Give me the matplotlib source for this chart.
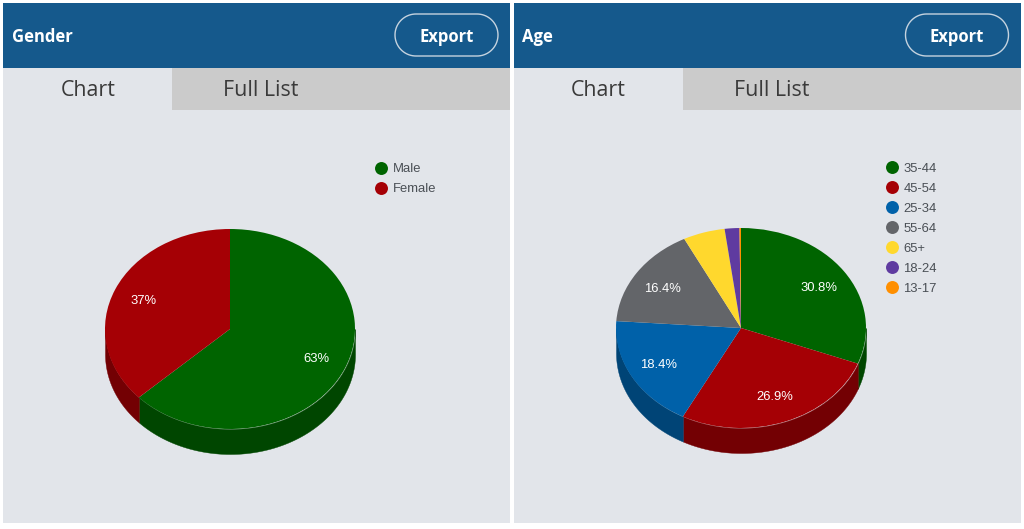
import matplotlib
matplotlib.use('Agg')
import matplotlib.pyplot as plt
from matplotlib.patches import Rectangle
import numpy as np

W, H = 1024, 529

gender_labels = ['Male', 'Female']
gender_values = [63, 37]
gender_colors = ['#006400', '#a50005']
gender_sides = ['#004600', '#730003']

age_labels = ['35-44', '45-54', '25-34', '55-64', '65+', '18-24', '13-17']
age_values = [30.8, 26.9, 18.4, 16.4, 5.4, 1.9, 0.2]
age_colors = ['#006400', '#a50005', '#0061a9', '#636569', '#ffd82d', '#5f3ba0', '#ff8f00']
age_sides = ['#004600', '#730003', '#004476', '#454649', '#b2971f', '#422970', '#b26400']

HEADER = '#15598c'
PANEL = '#e2e5ea'
TAB = '#cbcbcb'
UI_FONT = 'Open Sans'
CHART_FONT = 'Liberation Sans'


def draw_button(bg, x0, x1, y0, y1):
    r = (y1 - y0) / 2
    t = np.linspace(-np.pi / 2, np.pi / 2, 40)
    xs = np.concatenate([x1 - r + r * np.cos(t), x0 + r - r * np.cos(t)[::-1]])
    ys = np.concatenate([y0 + r + r * np.sin(t), y0 + r - r * np.sin(t)])
    bg.fill(xs, ys, fc=HEADER, ec='#c5d3df', lw=1)


def draw_panel(bg, left, right, tab_split, title, text_x):
    bg.add_patch(Rectangle((left, 3), right - left, 520, color=PANEL, lw=0))
    bg.add_patch(Rectangle((left, 3), right - left, 65, color=HEADER, lw=0))
    bg.add_patch(Rectangle((tab_split, 68), right - tab_split, 42, color=TAB, lw=0))
    draw_button(bg, text_x + 383, text_x + 486, 14, 56)
    bg.text(text_x, 37, title, color='white', fontsize=12, fontweight='bold', family=UI_FONT,
            va='center', ha='left')
    bg.text(text_x + 434.5, 37, 'Export', color='white', fontsize=12, fontweight='bold', family=UI_FONT,
            va='center', ha='center')
    bg.text(text_x + 76, 91, 'Chart', color='#3a3a3a', fontsize=15.4, family=UI_FONT, va='center', ha='center')
    bg.text(text_x + 249, 91, 'Full List', color='#3a3a3a', fontsize=15.4, family=UI_FONT, va='center', ha='center')


def draw_legend(bg, x, y, labels, colors):
    for i, (label, color) in enumerate(zip(labels, colors)):
        bg.scatter([x], [y + i * 20], s=87, color=color, linewidths=0, zorder=3)
        bg.text(x + 11.5, y + i * 20 + 1.5, label, color='#4a4f55', fontsize=9.4, family=CHART_FONT,
                va='center', ha='left')


def pct_label(pct):
    if pct < 10:
        return ''
    if abs(pct - round(pct)) < 0.01:
        return f'{pct:.0f}%'
    return f'{pct:.1f}%'


def draw_pie(fig, cx, cy, values, colors, sides):
    rx, ry, depth = 125, 100, 25
    ax = fig.add_axes([(cx - rx) / W, 1 - (cy + ry + depth) / H, 2 * rx / W, (2 * ry + depth) / H])
    drop = depth / ry

    # side wall, only the part facing the viewer
    edges = np.cumsum([0] + list(values)) / sum(values) * 360
    for start, end, side in zip(edges[:-1], edges[1:], sides):
        lo, hi = max(start, 90), min(end, 270)
        if hi <= lo:
            continue
        t = np.radians(np.linspace(lo, hi, 80))
        ax.fill_between(np.sin(t), np.cos(t) - drop, np.cos(t), color=side, lw=0.3, zorder=1)

    _, _, autotexts = ax.pie(values, colors=colors, startangle=90, counterclock=False, radius=1,
                             autopct=pct_label, pctdistance=0.77,
                             textprops={'color': 'white', 'fontsize': 9.4, 'family': CHART_FONT},
                             wedgeprops={'linewidth': 0, 'zorder': 2})
    for t in autotexts:
        t.set_zorder(4)
        x, y = t.get_position()
        # labels sit a bit lower than plain centre text
        t.set_position((x * 0.98, y * 0.95 - 0.01))
    ax.set_aspect('auto')
    ax.set_xlim(-1, 1)
    ax.set_ylim(-1 - drop, 1)
    ax.axis('off')
    ax.patch.set_alpha(0)


fig = plt.figure(figsize=(W / 100, H / 100), dpi=100, facecolor='white')
bg = fig.add_axes([0, 0, 1, 1])
bg.axis('off')

draw_panel(bg, 3, 510, 172, 'Gender', 12)
draw_panel(bg, 514, 1021, 683, 'Age', 522.5)

draw_legend(bg, 381, 167.5, gender_labels, gender_colors)
draw_legend(bg, 892, 167, age_labels, age_colors)

bg.set_xlim(0, W)
bg.set_ylim(H, 0)

draw_pie(fig, 230, 329, gender_values, gender_colors, gender_sides)
draw_pie(fig, 741, 328, age_values, age_colors, age_sides)

fig.savefig('out.png', dpi=100, facecolor='white')
